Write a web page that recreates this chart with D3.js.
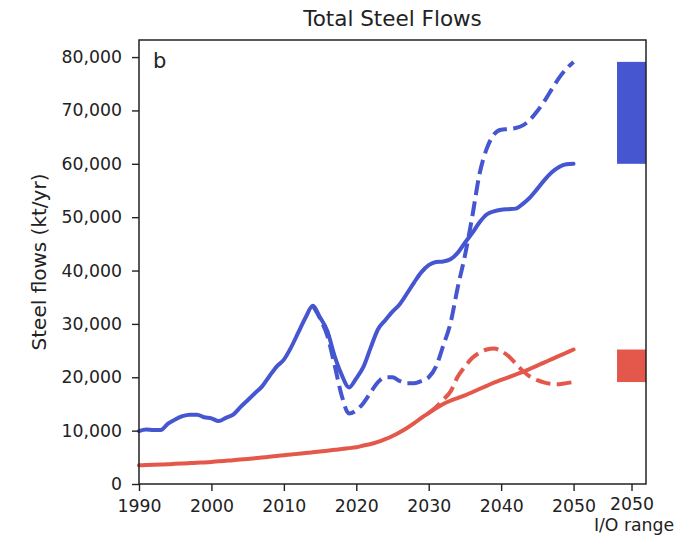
<!DOCTYPE html>
<html>
<head>
<meta charset="utf-8">
<script src="https://cdn.jsdelivr.net/npm/d3@7"></script>
<style>
  html, body { margin: 0; padding: 0; background: #fff; }
  svg { display: block; font-family: "DejaVu Sans", sans-serif; }
</style>
</head>
<body>
<svg id="chart" width="700" height="535"></svg>
<script>
// Years 1990–2050, one value per year (kt/yr)
const years = d3.range(1990, 2051);

// Total steel, baseline scenario (solid blue)
const blueSolid = [
  9900, 10200, 10100, 10100, 11300, 12100, 12700, 13000, 13000, 12500,
  12300, 11800, 12400, 13000, 14400, 15700, 17000, 18300, 20200, 22000,
  23300, 25600, 28400, 31200, 33400, 31200, 28700, 24000, 20400, 18100,
  19800, 22000, 25600, 29000, 30700, 32300, 33700, 35700, 37800, 39700,
  41000, 41600, 41700, 42100, 43300, 45200, 47000, 49000, 50500, 51100,
  51400, 51500, 51600, 52500, 53700, 55300, 57000, 58400, 59400, 59900,
  60000
];

// Total steel, alternative scenario (dashed blue), from 2014
const blueDashYears = d3.range(2014, 2051);
const blueDashed = [
  33400, 31000, 27800, 22300, 16500, 13200, 13800, 15200, 17200, 19100,
  20000, 20000, 19300, 18900, 18900, 19300, 20000, 22000, 25900, 30100,
  36800, 42800, 50000, 58000, 62800, 65500, 66400, 66500, 66700, 67200,
  68300, 69900, 71800, 74000, 76100, 77800, 79100
];

// Secondary steel, baseline (solid red)
const redSolid = [
  3500, 3550, 3600, 3650, 3700, 3780, 3850, 3920, 4000, 4050,
  4130, 4250, 4350, 4450, 4580, 4700, 4830, 4970, 5100, 5250,
  5400, 5530, 5670, 5800, 5950, 6100, 6250, 6400, 6550, 6720,
  6900, 7200, 7500, 7900, 8400, 9000, 9700, 10500, 11400, 12400,
  13300, 14200, 15000, 15600, 16100, 16600, 17200, 17800, 18400, 19000,
  19500, 20000, 20500, 21000, 21600, 22200, 22800, 23400, 24000, 24600,
  25200
];

// Secondary steel, alternative (dashed red), from 2030
const redDashYears = d3.range(2030, 2051);
const redDashed = [
  13300, 14400, 15800, 17300, 20100, 22000, 23600, 24600, 25200, 25400,
  24900, 24000, 22600, 21200, 20100, 19450, 19000, 18750, 18700, 18900,
  19100
];

const yTicks = [0, 10000, 20000, 30000, 40000, 50000, 60000, 70000, 80000];
const xTicks = [1990, 2000, 2010, 2020, 2030, 2040, 2050];
const ioYear = 2058;          // position of the I/O range column
const ioHalfWidth = 2;        // half-width of the range bars, in years
const ioLabel = ["2050", "I/O range"];

const BLUE = "#4556d0";
const RED = "#e4574b";
const INK = "#222";

const svg = d3.select("#chart");
const margin = { left: 139, right: 54, top: 40, bottom: 51 };
const W = 700, H = 535;

const x = d3.scaleLinear().domain([1990, 2060]).range([margin.left, W - margin.right]);
const y = d3.scaleLinear().domain([0, 83200]).range([H - margin.bottom, margin.top]);

const fmt = d3.format(",");

// I/O range bars: span of the two 2050 values per colour
const ranges = [
  { color: BLUE, lo: d3.min([blueSolid.at(-1), blueDashed.at(-1)]), hi: d3.max([blueSolid.at(-1), blueDashed.at(-1)]) },
  { color: RED,  lo: d3.min([redSolid.at(-1), redDashed.at(-1)]),  hi: d3.max([redSolid.at(-1), redDashed.at(-1)]) }
];
svg.append("g").selectAll("rect").data(ranges).join("rect")
  .attr("x", x(ioYear - ioHalfWidth))
  .attr("width", x(ioYear + ioHalfWidth) - x(ioYear - ioHalfWidth))
  .attr("y", d => y(d.hi))
  .attr("height", d => y(d.lo) - y(d.hi))
  .attr("fill", d => d.color);

// Lines
const line = d3.line()
  .x(d => x(d[0]))
  .y(d => y(d[1]))
  .curve(d3.curveMonotoneX);

const series = [
  { yrs: years, vals: redSolid, color: RED, dash: null },
  { yrs: redDashYears, vals: redDashed, color: RED, dash: "14.8 6.4" },
  { yrs: years, vals: blueSolid, color: BLUE, dash: null },
  { yrs: blueDashYears, vals: blueDashed, color: BLUE, dash: "14.8 6.4" }
];
svg.append("g").selectAll("path").data(series).join("path")
  .attr("d", s => line(s.yrs.map((yr, i) => [yr, s.vals[i]])))
  .attr("fill", "none")
  .attr("stroke", s => s.color)
  .attr("stroke-width", 4)
  .attr("stroke-linejoin", "round")
  .attr("stroke-linecap", s => s.dash ? "butt" : "round")
  .attr("stroke-dasharray", s => s.dash);

// Axes
const yAxis = d3.axisLeft(y).tickValues(yTicks).tickFormat(fmt).tickSize(7).tickPadding(10);
const gy = svg.append("g").attr("transform", `translate(${margin.left},0)`).call(yAxis);

const xAxis = d3.axisBottom(x).tickValues([...xTicks, ioYear])
  .tickFormat(d => String(d)).tickSize(7).tickPadding(9);
const gx = svg.append("g").attr("transform", `translate(0,${H - margin.bottom})`).call(xAxis);

[gx, gy].forEach(g => {
  g.select(".domain").remove();
  g.selectAll(".tick line").attr("stroke", INK).attr("stroke-width", 1.4);
  g.selectAll(".tick text").attr("fill", INK).style("font-size", "17.3px")
    .style("font-family", "'DejaVu Sans', sans-serif");
});

// two-line label for the I/O column
gx.selectAll(".tick").filter(d => d === ioYear).select("text")
  .attr("y", 14)
  .text(null)
  .selectAll("tspan").data(ioLabel).join("tspan")
  .attr("x", (d, i) => i === 0 ? 0 : 2)
  .attr("dy", (d, i) => i === 0 ? null : "1.17em")
  .text(d => d);

// Frame
svg.append("rect")
  .attr("x", margin.left).attr("y", margin.top)
  .attr("width", W - margin.right - margin.left)
  .attr("height", H - margin.bottom - margin.top)
  .attr("fill", "none").attr("stroke", INK).attr("stroke-width", 1.5);

// Title
svg.append("text")
  .attr("x", (margin.left + W - margin.right) / 2)
  .attr("y", 26)
  .attr("text-anchor", "middle")
  .attr("fill", INK)
  .style("font-size", "21.5px")
  .text("Total Steel Flows");

// Y label
svg.append("text")
  .attr("transform", `translate(46,${(margin.top + H - margin.bottom) / 2}) rotate(-90)`)
  .attr("text-anchor", "middle")
  .attr("fill", INK)
  .style("font-size", "20px")
  .text("Steel flows (kt/yr)");

// Panel letter
svg.append("text")
  .attr("x", 153)
  .attr("y", 68)
  .attr("fill", INK)
  .style("font-size", "21px")
  .text("b");
</script>
</body>
</html>
